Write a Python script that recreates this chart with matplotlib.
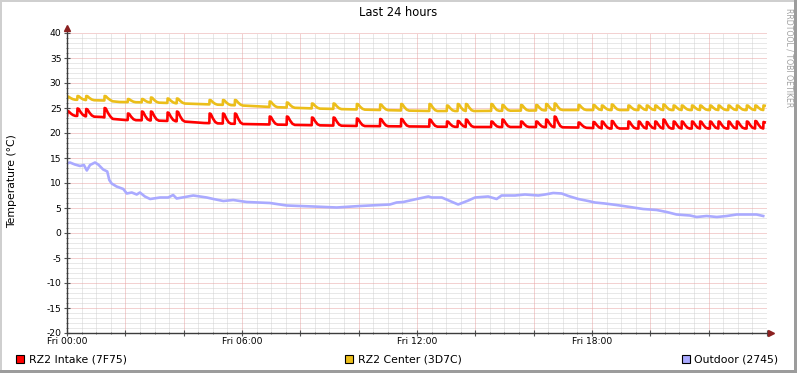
import numpy as np
import matplotlib
matplotlib.use("Agg")
import matplotlib.pyplot as plt
from matplotlib.patches import Rectangle
from matplotlib.ticker import MultipleLocator, FixedLocator, FuncFormatter

plt.rcParams["axes.unicode_minus"] = False

# ---- data (hours since Fri 00:00, degrees C) ----
red_base_t = [0.0, 1.2, 1.6, 2.0, 3.0, 4.0, 4.7, 6.0, 8.0, 10.0, 12.0, 14.0, 16.0, 17.5, 18.5, 23.95]
red_base_v = [23.5, 23.2, 22.8, 22.6, 22.5, 22.3, 22.0, 21.8, 21.6, 21.4, 21.3, 21.2, 21.2, 21.1, 20.9, 20.9]

yel_base_t = [0.0, 1.3, 1.8, 3.0, 4.0, 5.0, 6.0, 7.0, 8.5, 10.0, 11.5, 12.5, 14.0, 16.0, 17.0, 18.0, 23.95]
yel_base_v = [26.7, 26.5, 26.2, 26.1, 25.9, 25.7, 25.5, 25.2, 24.9, 24.7, 24.5, 24.4, 24.4, 24.5, 24.6, 24.6, 24.6]

spike_t = [0.0, 0.35, 0.65, 1.28, 2.08, 2.56, 2.87, 3.44, 3.76, 4.88, 5.34, 5.75,
           6.94, 7.53, 8.39, 9.13, 9.93, 10.73, 11.45, 12.42, 13.02, 13.39, 13.67,
           14.54, 14.92, 15.56, 16.08, 16.42, 16.71, 17.53, 18.04, 18.33, 18.67,
           19.24, 19.59, 19.87, 20.16, 20.44, 20.79, 21.07, 21.42, 21.70, 22.04,
           22.33, 22.67, 22.96, 23.30, 23.59, 23.87]
red_peak = [24.4, 24.9, 24.8, 25.0, 23.9, 24.3, 24.3, 24.1, 24.3, 23.9, 23.9, 23.9,
            23.3, 23.3, 23.1, 23.1, 22.9, 22.8, 22.8, 22.7, 22.3, 22.4, 22.7,
            22.3, 22.7, 22.3, 22.3, 22.7, 23.3, 22.1, 22.2, 22.3, 22.4,
            22.3, 22.3, 22.2, 22.3, 22.7, 22.3, 22.3, 22.3, 22.3, 22.3,
            22.3, 22.3, 22.3, 22.3, 22.4, 22.2]
yel_peak = [27.3, 27.4, 27.4, 27.4, 26.8, 26.8, 27.1, 26.9, 26.9, 26.6, 26.6, 26.6,
            26.3, 26.1, 25.9, 25.9, 25.8, 25.7, 25.8, 25.8, 25.5, 25.8, 25.8,
            25.8, 25.6, 25.6, 25.6, 25.8, 25.9, 25.6, 25.6, 25.5, 25.7,
            25.5, 25.5, 25.5, 25.5, 25.7, 25.5, 25.5, 25.5, 25.5, 25.5,
            25.5, 25.5, 25.5, 25.5, 25.5, 25.5]

out_t = [0.0, 0.10, 0.27, 0.45, 0.58, 0.68, 0.79, 0.96, 1.07, 1.24, 1.38, 1.45, 1.53,
         1.70, 1.93, 2.05, 2.22, 2.39, 2.50, 2.67, 2.85, 3.19, 3.47, 3.64, 3.76, 4.05,
         4.33, 4.79, 5.02, 5.36, 5.70, 5.93, 6.16, 6.96, 7.53, 8.44, 9.25, 10.04, 11.07,
         11.30, 11.53, 11.99, 12.39, 12.50, 12.85, 13.13, 13.41, 13.76, 13.99, 14.44,
         14.73, 14.90, 15.36, 15.70, 16.16, 16.39, 16.67, 16.96, 17.19, 17.53, 17.87,
         18.10, 18.44, 18.84, 19.30, 19.75, 20.22, 20.56, 20.90, 21.36, 21.59, 21.93,
         22.28, 22.62, 22.96, 23.41, 23.64, 23.87]
out_v = [13.9, 14.1, 13.7, 13.4, 13.6, 12.5, 13.6, 14.1, 13.7, 12.7, 12.3, 10.6, 9.9,
         9.3, 8.8, 7.9, 8.1, 7.7, 8.1, 7.3, 6.8, 7.1, 7.1, 7.6, 6.9, 7.2,
         7.5, 7.1, 6.8, 6.4, 6.6, 6.4, 6.2, 6.0, 5.5, 5.3, 5.1, 5.4, 5.7,
         6.1, 6.2, 6.8, 7.3, 7.1, 7.1, 6.4, 5.7, 6.5, 7.1, 7.3,
         6.8, 7.5, 7.5, 7.7, 7.5, 7.7, 8.0, 7.9, 7.4, 6.8, 6.4,
         6.1, 5.9, 5.6, 5.2, 4.8, 4.6, 4.2, 3.7, 3.5, 3.2, 3.4,
         3.2, 3.4, 3.7, 3.7, 3.7, 3.4]

labels = ["RZ2 Intake (7F75)", "RZ2 Center (3D7C)", "Outdoor (2745)"]
colors = ["#ff0000", "#ecbe1a", "#aaaaff"]
xtick_labels = {0: "Fri 00:00", 6: "Fri 06:00", 12: "Fri 12:00", 18: "Fri 18:00"}


def add_spikes(bt, bv, st, sp):
    # sharp rise, then a gradual decay back to the base line
    keep = [(t, v) for t, v in zip(bt, bv)
            if not any(s <= t <= s + 0.28 for s in st)]
    pts = list(keep)
    for s, p in zip(st, sp):
        b0 = np.interp(s, bt, bv)
        b1 = np.interp(s + 0.28, bt, bv)
        pts += [(s, b0), (s + 0.01, p), (s + 0.05, p - 0.05 * (p - b0)),
                (s + 0.12, b0 + 0.5 * (p - b0)), (s + 0.2, b0 + 0.12 * (p - b0)),
                (s + 0.28, b1)]
    pts = sorted((t, v) for t, v in pts if t <= 23.95)
    return [t for t, _ in pts], [v for _, v in pts]


W, H = 797, 373
fig = plt.figure(figsize=(W / 100, H / 100), dpi=100)
fig.patch.set_facecolor("white")
ax = fig.add_axes([67 / W, (H - 333) / H, 700 / W, 300 / H])
ax.set_facecolor("white")

rt, rv = add_spikes(red_base_t, red_base_v, spike_t, red_peak)
yt, yv = add_spikes(yel_base_t, yel_base_v, spike_t, yel_peak)
ax.plot(rt, rv, color=colors[0], lw=1.9, zorder=3)
ax.plot(yt, yv, color=colors[1], lw=1.9, zorder=3)
ax.plot(out_t, out_v, color=colors[2], lw=1.9, zorder=3)

ax.set_xlim(0, 24)
ax.set_ylim(-20, 40)

# grid: minor grey dotted, major red dotted
gkw = dict(lw=0.72, ls=(0, (1, 1)))
for h in np.arange(0.5, 24.01, 0.5):
    if h % 2:
        ax.axvline(h, color="#d2d2d2", zorder=1, **gkw)
for h in range(2, 25, 2):
    ax.axvline(h, color="#e8a4a4", zorder=1.5, **gkw)
for yv_ in range(-19, 41):
    if yv_ % 5:
        ax.axhline(yv_, color="#d2d2d2", zorder=1, **gkw)
for yv_ in range(-15, 41, 5):
    ax.axhline(yv_, color="#e8a4a4", zorder=1.5, **gkw)

for s in ax.spines.values():
    s.set_visible(False)

ax.yaxis.set_major_locator(MultipleLocator(5))
ax.yaxis.set_minor_locator(MultipleLocator(1))
ax.xaxis.set_major_locator(FixedLocator(list(range(0, 25, 2))))
ax.xaxis.set_minor_locator(MultipleLocator(0.5))
ax.xaxis.set_major_formatter(FuncFormatter(lambda v, p: xtick_labels.get(int(round(v)), "")))
ax.tick_params(which="major", direction="inout", length=4, width=0.8, color="#555555",
               labelsize=6.6, pad=2)
ax.tick_params(which="minor", direction="inout", length=2, width=0.7, color="#777777")
ax.tick_params(axis="x", pad=1)

# axes with arrows
axc = "#3c3c3c"
arc = "#8b2020"
ax.plot([0, 0], [-20, 40.9], color=axc, lw=1.0, clip_on=False, zorder=4)
ax.plot([0, 24.15], [-20, -20], color=axc, lw=1.0, clip_on=False, zorder=4)
ax.plot([0], [41.0], marker="^", ms=4, color=arc, clip_on=False, zorder=5)
ax.plot([24.15], [-20], marker=">", ms=4, color=arc, clip_on=False, zorder=5)

# texts
fig.text(398 / W, 1 - 13 / H, "Last 24 hours", ha="center", va="center", fontsize=8.3)
fig.text(12 / W, 1 - 181 / H, "Temperature (°C)", rotation=90, ha="center", va="center",
         fontsize=7.8)
fig.text(789 / W, 1 - 8 / H, "RRDTOOL / TOBI OETIKER", rotation=-90, ha="center", va="top",
         fontsize=5.6, color="#a0a0a0")

# legend
leg_x = [16, 345, 682]
for x0, lab, col in zip(leg_x, labels, colors):
    fig.patches.append(Rectangle((x0 / W, (H - 363) / H), 8 / W, 8 / H, transform=fig.transFigure,
                                 facecolor=col, edgecolor="black", lw=0.8))
    fig.text((x0 + 12.5) / W, 1 - 359 / H, lab, ha="left", va="center", fontsize=7.8)

# 3D frame
fig.patches.append(Rectangle((0, 1 - 2 / H), 1, 2 / H, transform=fig.transFigure,
                             facecolor="#cfcfcf", edgecolor="none"))
fig.patches.append(Rectangle((0, 0), 2 / W, 1, transform=fig.transFigure,
                             facecolor="#cfcfcf", edgecolor="none"))
fig.patches.append(Rectangle((1 - 3 / W, 0), 3 / W, 1, transform=fig.transFigure,
                             facecolor="#9c9c9c", edgecolor="none"))
fig.patches.append(Rectangle((0, 0), 1, 3 / H, transform=fig.transFigure,
                             facecolor="#9c9c9c", edgecolor="none"))

fig.savefig("out.png", dpi=100)
